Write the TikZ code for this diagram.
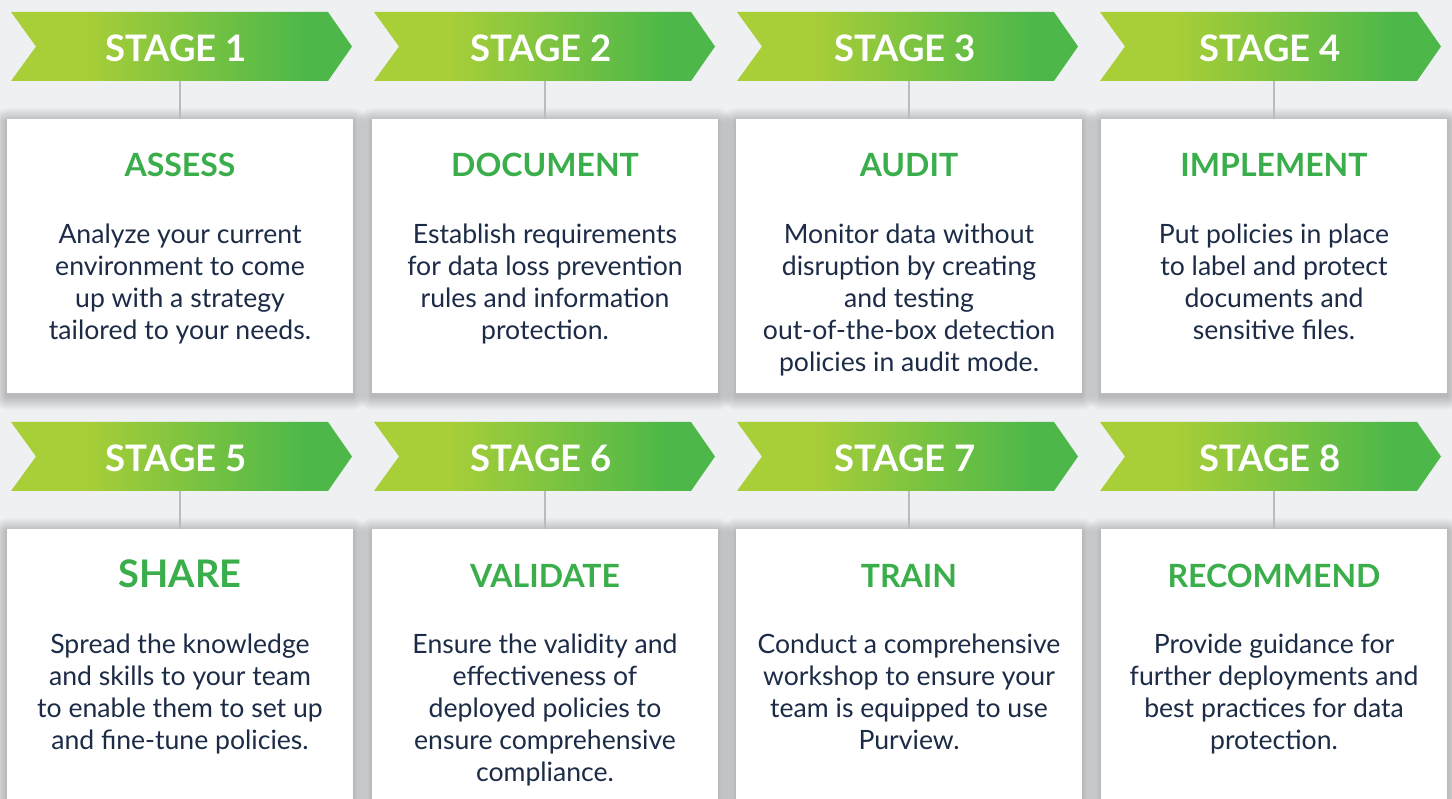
\documentclass[tikz,border=0pt]{standalone}
\usepackage{fontspec}
\setmainfont{Lato}
\definecolor{bg}{HTML}{EFF0F2}
\definecolor{lime}{HTML}{A8CE38}
\definecolor{leaf}{HTML}{4DB849}
\definecolor{ttlgreen}{HTML}{3AAE4A}
\definecolor{ink}{HTML}{1C2B46}
\definecolor{stemgray}{HTML}{B8BBBF}
\pgfdeclarehorizontalshading{stagegrad}{100bp}{color(0bp)=(lime); color(25bp)=(lime); color(36bp)=(lime); color(68bp)=(leaf); color(100bp)=(leaf)}
\tikzset{
  card/.style={fill=white, minimum width=346pt, minimum height=274pt, inner sep=0pt},
  softshadow/.style={fill=black, opacity=0.014},
  stagelbl/.style={anchor=base, inner sep=0pt, text height=50pt, text depth=19pt, text=white,
    font=\fontsize{36.5}{36.5}\bfseries\selectfont},
  stem/.style={draw=stemgray, line width=2pt},
  ttl/.style={anchor=base, inner sep=0pt, text=ttlgreen, font=\fontsize{32}{32}\bfseries\selectfont},
  bodytxt/.style={anchor=north, inner sep=0pt, align=center, text=ink, font=\fontsize{26.6}{32}\selectfont}
}
\newcommand\stagecol[6]{%
  \foreach \k in {1,...,14}{%
    \fill[softshadow, rounded corners=\k pt] (#2-173-\k,#4+119-\k+3) rectangle (#2+173+\k,#4+393+\k+3);
  }
  \node[card] (b#1) at (#2,#4+256) {};
  \shade[shading=stagegrad] (#3,#4+12) -- ++(317,0) -- ++(24,34.5) -- ++(-24,34.5) -- ++(-317,0) -- ++(25,-34.5) -- cycle;
  \node[stagelbl] (s#1) at (#2-4,#4+62) {STAGE #1};
  \draw[stem] (b#1.north |- s#1.south) -- (b#1.north);
  \node[ttl] (t#1) at (#2,#4+177) {#5};
  \node[bodytxt] (d#1) at (#2,#4+223.5) {#6};
}
\begin{document}
\begin{tikzpicture}[x=1pt,y=-1pt]
\useasboundingbox (0,0) rectangle (1452,799);
\fill[bg] (0,0) rectangle (1452,799);
\clip (0,0) rectangle (1452,799);
\stagecol{1}{180}{11}{0}{ASSESS}{Analyze your current\\environment to come\\up with a strategy\\tailored to your needs.}
\stagecol{2}{545}{374}{0}{DOCUMENT}{Establish requirements\\for data loss prevention\\rules and information\\protection.}
\stagecol{3}{909}{737}{0}{AUDIT}{Monitor data without\\disruption by creating\\and testing\\out-of-the-box detection\\policies in audit mode.}
\stagecol{4}{1274}{1100}{0}{IMPLEMENT}{Put policies in place\\to label and protect\\documents and\\sensitive files.}
\stagecol{5}{180}{11}{410}{\fontsize{38}{38}\selectfont SHARE}{Spread the knowledge\\and skills to your team\\to enable them to set up\\and fine-tune policies.}
\stagecol{6}{545}{374}{410}{VALIDATE}{Ensure the validity and\\effectiveness of\\deployed policies to\\ensure comprehensive\\compliance.}
\stagecol{7}{909}{737}{410}{TRAIN}{Conduct a comprehensive\\workshop to ensure your\\team is equipped to use\\Purview.}
\stagecol{8}{1274}{1100}{410}{RECOMMEND}{Provide guidance for\\further deployments and\\best practices for data\\protection.}
\end{tikzpicture}
\end{document}
